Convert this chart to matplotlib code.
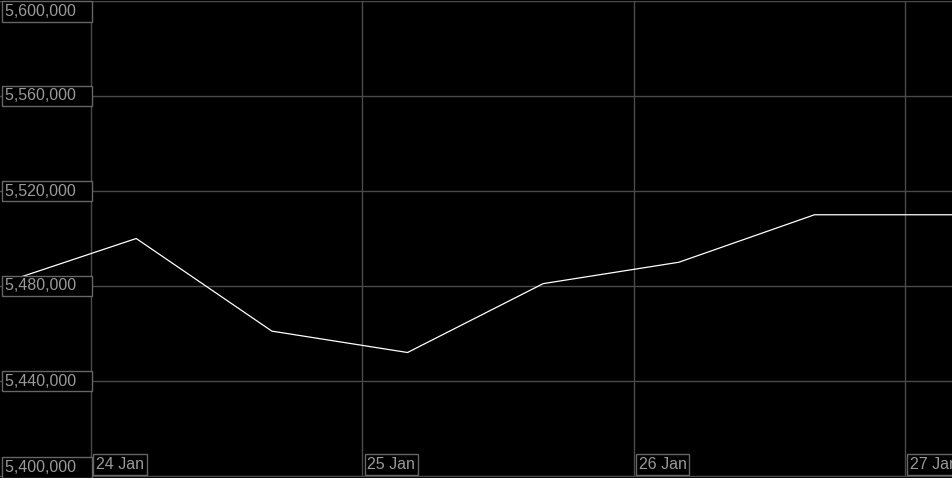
import pandas as pd
import matplotlib
matplotlib.use('Agg')
import matplotlib.pyplot as plt
import matplotlib.dates as mdates

plt.rcParams['font.family'] = ['Liberation Sans', 'DejaVu Sans']

times = pd.to_datetime(['2024-01-23 17:55', '2024-01-24 04:00', '2024-01-24 16:00',
                        '2024-01-25 04:00', '2024-01-25 16:00', '2024-01-26 04:00',
                        '2024-01-26 16:00', '2024-01-27 04:10'])
values = [5484000, 5500000, 5461000, 5452000, 5481000, 5490000, 5510000, 5510000]

x_ticks = pd.to_datetime(['2024-01-24', '2024-01-25', '2024-01-26', '2024-01-27'])
x_labels = ['24 Jan', '25 Jan', '26 Jan', '27 Jan']
y_ticks = [5400000, 5440000, 5480000, 5520000, 5560000, 5600000]
y_labels = ['5,400,000', '5,440,000', '5,480,000', '5,520,000', '5,560,000', '5,600,000']

grid_c = '#4a4a4a'
text_c = '#9a9a9a'
box_c = '#666666'

fig = plt.figure(figsize=(9.53, 4.78), dpi=100, facecolor='black')
ax = fig.add_axes([0, 2 / 478, 1, 475 / 478])
ax.set_facecolor('black')

ax.plot(times, values, color='white', lw=0.9, zorder=3)

ax.set_xlim(pd.Timestamp('2024-01-23 15:57'), pd.Timestamp('2024-01-27 04:15'))
ax.set_ylim(5400000, 5600000)
ax.set_xticks(x_ticks)
ax.set_yticks(y_ticks)
ax.tick_params(length=0, labelbottom=False, labelleft=False)
ax.grid(True, color=grid_c, lw=1.0, zorder=1)
for s in ['left', 'right', 'top']:
    ax.spines[s].set_visible(False)
ax.spines['bottom'].set_color(grid_c)

bbox = dict(boxstyle='square,pad=0.17', fc='black', ec=box_c, lw=1.0)

for v, lab in zip(y_ticks, y_labels):
    if v == y_ticks[-1]:
        va, dy = 'top', -3
    elif v == y_ticks[0]:
        va, dy = 'bottom', 1
    else:
        va, dy = 'center', 0
    ax.annotate(lab + '   ', xy=(0, v), xycoords=ax.get_yaxis_transform(),
                xytext=(5, dy), textcoords='offset pixels', ha='left', va=va,
                fontsize=11.5, color=text_c, bbox=bbox, zorder=5)

for d, lab in zip(mdates.date2num(x_ticks), x_labels):
    ax.annotate(lab, xy=(d, 0), xycoords=ax.get_xaxis_transform(),
                xytext=(5, 4), textcoords='offset pixels', ha='left', va='bottom',
                fontsize=11.5, color=text_c, bbox=bbox, zorder=5, annotation_clip=False)

fig.savefig('out.png', dpi=100, facecolor='black')
